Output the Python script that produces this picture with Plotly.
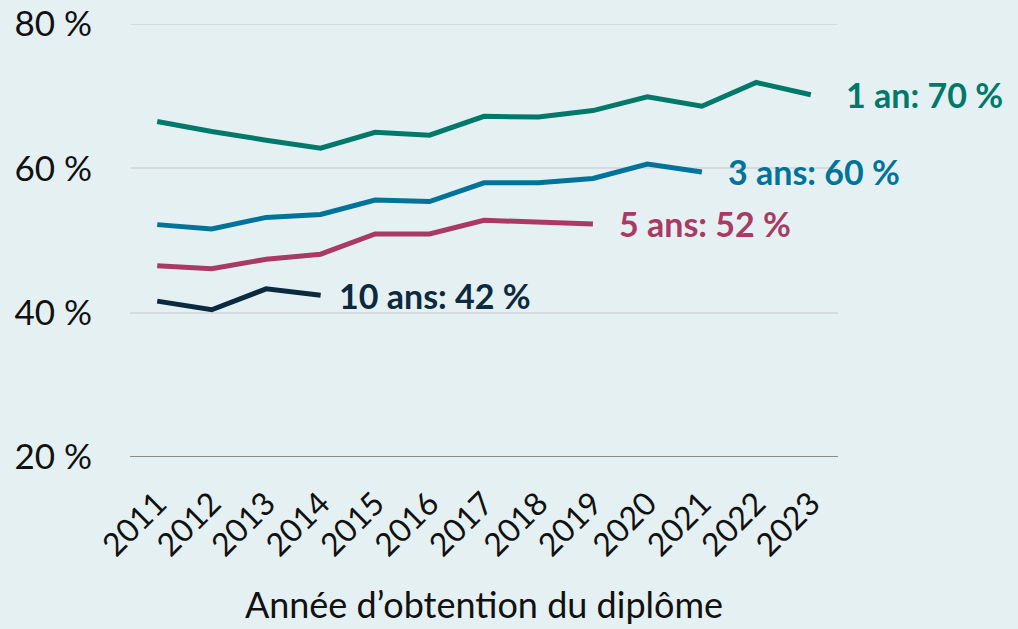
import plotly.graph_objects as go

years = [str(y) for y in range(2011, 2024)]
un_an = [66.5, 65.1, 63.9, 62.8, 65.0, 64.6, 67.2, 67.1, 68.0, 69.9, 68.6, 71.9, 70.2]
trois_ans = [52.2, 51.6, 53.2, 53.6, 55.6, 55.4, 58.0, 58.0, 58.6, 60.6, 59.5]
cinq_ans = [46.5, 46.1, 47.4, 48.1, 50.9, 50.9, 52.8, 52.5, 52.3]
dix_ans = [41.6, 40.4, 43.3, 42.4]
y_ticks = [20, 40, 60, 80]
y_labels = ["20 %", "40 %", "60 %", "80 %"]

series = [
    ("1 an: 70 %", un_an, "#00786A", 33),
    ("3 ans: 60 %", trois_ans, "#00739A", 24),
    ("5 ans: 52 %", cinq_ans, "#A83A63", 24),
    ("10 ans: 42 %", dix_ans, "#0B2A3F", 16),
]

FONT = "Lato"
fig = go.Figure()
for name, vals, col, shift in series:
    fig.add_trace(go.Scatter(x=years[:len(vals)], y=vals, mode="lines", name=name,
                             line=dict(color=col, width=5), showlegend=False))
    fig.add_annotation(xref="x", yref="y", x=len(vals) - 1, y=vals[-1],
                       text="<b>" + name + "</b>",
                       showarrow=False, xanchor="left", yanchor="middle", xshift=shift,
                       font=dict(family=FONT, size=34, color=col))

fig.update_layout(
    width=1018, height=629,
    margin=dict(l=130, r=180, t=24, b=172),
    paper_bgcolor="#E5F0F2", plot_bgcolor="#E5F0F2",
    font=dict(family=FONT, color="#111111"),
    xaxis=dict(type="category", range=[-0.5, 12.5], tickangle=-45, showgrid=False,
               tickfont=dict(size=32), ticks="outside", ticklen=14, tickcolor="rgba(0,0,0,0)",
               showline=False, automargin=False,
               title=dict(text="Année d’obtention du diplôme", font=dict(size=36), standoff=30)),
    yaxis=dict(range=[20, 80], tickvals=y_ticks, ticktext=y_labels, automargin=False,
               tickfont=dict(size=35), gridcolor="#D6DBDD", gridwidth=2, zeroline=False,
               showline=False, ticks="outside", ticklen=30, tickcolor="rgba(0,0,0,0)"),
)
fig.add_shape(type="line", xref="paper", yref="y", x0=0, x1=1, y0=80, y1=80,
              line=dict(color="#D6DBDD", width=2), layer="below")
fig.add_shape(type="line", xref="paper", yref="y", x0=0, x1=1, y0=20, y1=20,
              line=dict(color="#8C8C8C", width=2))
fig.write_html("out.html", config={"displayModeBar": False},
               post_script="document.body.style.margin='0';")
